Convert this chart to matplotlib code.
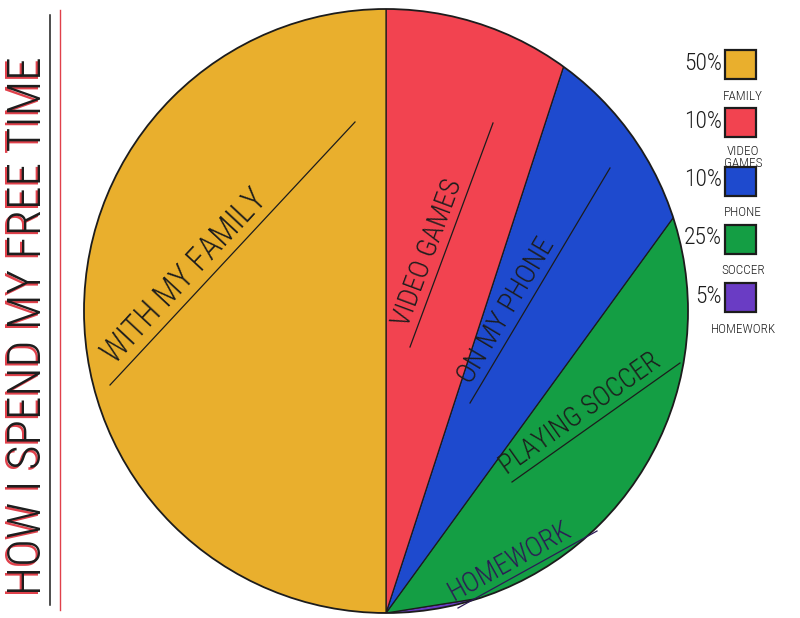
import numpy as np
import matplotlib.pyplot as plt
from matplotlib import font_manager as fm
from matplotlib.patches import Circle, Rectangle

# values as written in the key on the right
names = ['FAMILY', 'VIDEO\nGAMES', 'PHONE', 'SOCCER', 'HOMEWORK']
percents = [50, 10, 10, 25, 5]
slice_labels = ['WITH MY FAMILY', 'VIDEO GAMES', 'ON MY PHONE', 'PLAYING SOCCER', 'HOMEWORK']
colors = ['#e9af2d', '#f24350', '#1e4ace', '#149e44', '#6a3cc4']
title = 'HOW I SPEND MY FREE TIME'

# the handwriting is tall and narrow: use a condensed face if one is installed
wanted = ['RobotoCondensed-Light', 'RobotoCondensed-Regular', 'OpenSans_Condensed-Light',
          'OpenSans_Condensed-Regular', 'DejaVuSansCondensed.ttf', 'LiberationSansNarrow-Regular']
files = [f.fname for f in fm.fontManager.ttflist]
hand = None
for key in wanted:
    hit = [p for p in files if key in p]
    if hit:
        hand = fm.FontProperties(fname=hit[0])
        break
if hand is None:
    hand = fm.FontProperties(family='DejaVu Sans')
    shrink = 0.8
else:
    shrink = 1.0

W, H = 800, 618
CX, CY, R = 386, 311, 302   # circle centre and radius in pixels
INK = '#1c1c1c'


def px(x, y):
    # page pixels -> data units of the full-page axes
    return (x - CX) / R, (CY - y) / R


fig = plt.figure(figsize=(W / 100, H / 100), dpi=100)
ax = fig.add_axes([0, 0, 1, 1])

# on the drawing every slice fans out from the bottom of the circle,
# so the pie is centred there and half a turn stands for 100%
vals = np.array(percents[::-1]) / 200
wedges, _ = ax.pie(vals, colors=colors[::-1], normalize=False, center=(0, -1), radius=2.2,
                   startangle=0, counterclock=True,
                   wedgeprops=dict(edgecolor=INK, linewidth=0.9))
rim = Circle((0, 0), 1, fill=False, edgecolor=INK, linewidth=1.3)
ax.add_patch(rim)
for w in wedges:
    w.set_clip_on(True)
    w.set_clip_path(rim)

# hand written slice labels sitting on an underline
lines_px = [((110, 385), (355, 122)), ((410, 347), (493, 123)), ((470, 403), (610, 168)),
            ((512, 482), (680, 363)), ((458, 608), (597, 531))]
text_start = [0.05, 0.07, 0.06, 0.0, 0.0]
label_size = [23.5, 20, 20.5, 19.5, 20]
label_color = [INK, INK, INK, INK, '#2c1a55']
for lab, (p0, p1), f, fs, c in zip(slice_labels, lines_px, text_start, label_size, label_color):
    x0, y0 = px(*p0)
    x1, y1 = px(*p1)
    ax.plot([x0, x1], [y0, y1], color=c, lw=0.9)
    ang = np.degrees(np.arctan2(y1 - y0, x1 - x0))
    ux, uy = np.cos(np.radians(ang)), np.sin(np.radians(ang))
    tx = x0 + f * (x1 - x0) - uy * 0.008
    ty = y0 + f * (y1 - y0) + ux * 0.008
    ax.text(tx, ty, lab, rotation=ang, rotation_mode='anchor', ha='left', va='bottom',
            fontproperties=hand, fontsize=fs * shrink, color=c)

# title down the left margin, black over a red offset
for dx, dy, c in [(-2.5, 1.5, '#e0404a'), (0, 0, INK)]:
    ax.text(*px(28 + dx, 326 + dy), title, rotation=90, ha='center', va='center',
            fontproperties=hand, fontsize=34 * shrink, color=c)
ax.plot(*zip(px(50, 15), px(50, 605)), color=INK, lw=1.1)
ax.plot(*zip(px(60, 10), px(60, 610)), color='#e0404a', lw=1.0)

# key
for i, (nm, p, c) in enumerate(zip(names, percents, colors)):
    top = 50 + i * 58.3
    x0, y0 = px(725, top + 29)
    ax.add_patch(Rectangle((x0, y0), 31 / R, 29 / R, facecolor=c, edgecolor=INK, lw=1.6))
    ax.text(*px(722, top + 13), f'{p}%', ha='right', va='center',
            fontproperties=hand, fontsize=17 * shrink, color=INK)
    ax.text(*px(743, top + 29 + (20 if '\n' in nm else 17)), nm, ha='center', va='center',
            fontproperties=hand, fontsize=9.5 * shrink, color=INK, linespacing=0.9)

ax.set_xlim(-CX / R, (W - CX) / R)
ax.set_ylim((CY - H) / R, CY / R)
ax.set_aspect('auto')
ax.axis('off')

fig.savefig('out.png', dpi=100, facecolor='white')
